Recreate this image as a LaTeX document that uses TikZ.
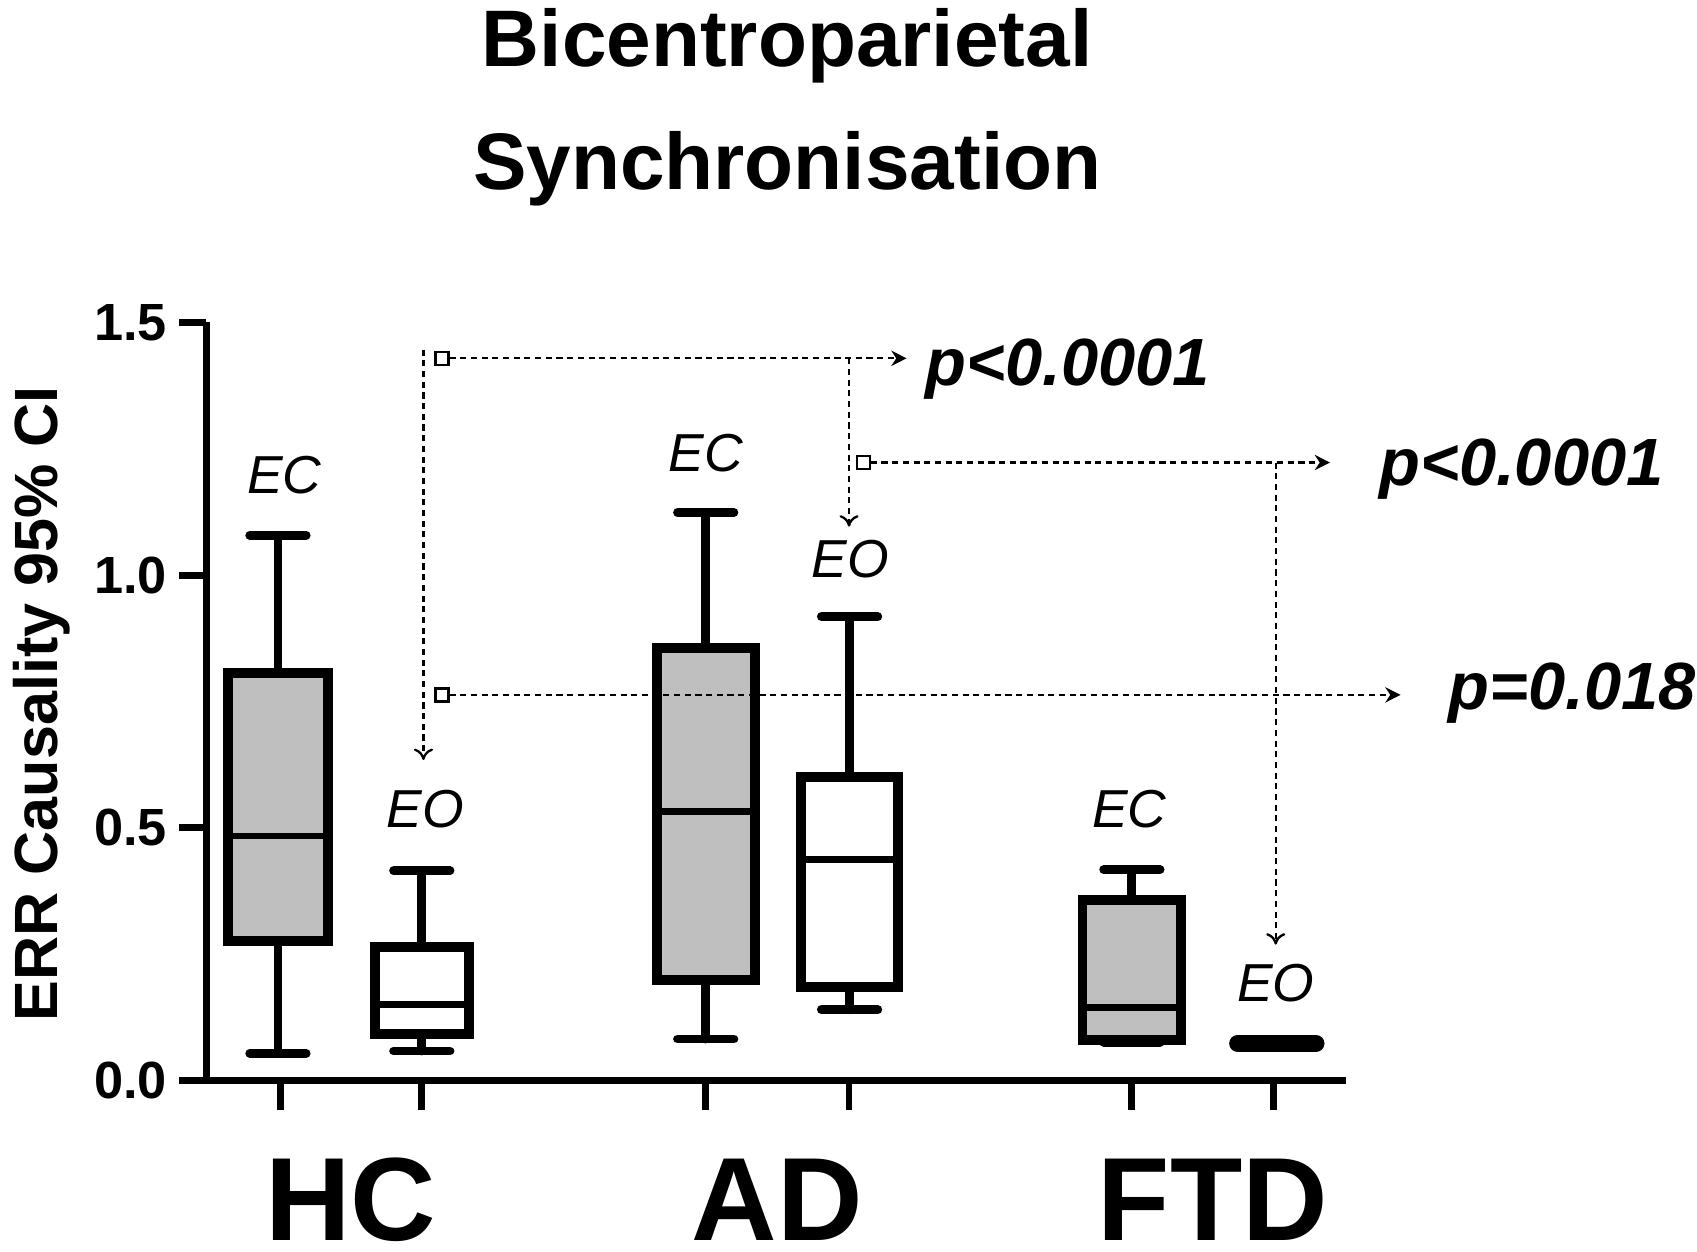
\documentclass[tikz,border=0pt]{standalone}
\usepackage{fontspec}
\setmainfont{Liberation Sans}
\usetikzlibrary{arrows.meta,positioning}

\tikzset{
  box/.style={line width=2.6pt},
  whisk/.style={line width=2.3pt,line cap=round},
  conn/.style={line width=0.6pt,dash pattern=on 1.6pt off 1.2pt},
  sqmark/.style={draw,line width=0.6pt,fill=white,minimum size=3.4pt,inner sep=0pt},
  grp/.style={font=\itshape\fontsize{14}{14}\selectfont},
  pval/.style={font=\bfseries\itshape\fontsize{17.5}{17.5}\selectfont,anchor=west}
}

% one box plot: x-left, x-right, top, bottom, median, whisker high, whisker low (px)
\newcommand{\boxplot}[8]{%
  \pgfmathsetmacro{\xm}{(#1+#2)/2}
  \draw[whisk] (\xm,#6) -- (\xm,#3);
  \draw[whisk] (\xm,#5) -- (\xm,#7);
  \draw[whisk] (\xm-26,#6) -- (\xm+26,#6);
  \draw[whisk] (\xm-26,#7) -- (\xm+26,#7);
  \draw[box,fill=#8] (#1,#3) rectangle (#2,#4);
  \draw[line width=1.8pt] (#1,#5) -- (#2,#5);
}

\begin{document}
\begin{tikzpicture}[x=0.01cm,y=-0.01cm,>=Stealth]
\useasboundingbox (0,0) rectangle (1563,1153);

% title
\node[font=\bfseries\fontsize{21}{21}\selectfont] (title1) at (725,42) {Bicentroparietal};
\node[font=\bfseries\fontsize{21}{21}\selectfont] (title2) at (725,155) {Synchronisation};

% axes
\draw[line width=1.8pt] (190,297) -- (190,995) -- (1240,995);
\foreach \y/\lab in {995/0.0,762/0.5,530/1.0,297/1.5}
  \draw[line width=1.8pt] (165,\y) -- (190,\y) node[pos=0,left=-1pt,font=\bfseries\fontsize{13.7}{13.7}\selectfont] {\lab};
\foreach \x in {258,388,650,782,1042,1173}
  \draw[line width=1.8pt] (\x,995) -- (\x,1022);
\node[rotate=90,font=\bfseries\fontsize{16}{16}\selectfont] (ylab) at (38,648) {ERR Causality 95\% CI};

% groups
\node[font=\bfseries\fontsize{31}{31}\selectfont] (hc) at (323,1105) {HC};
\node[font=\bfseries\fontsize{31}{31}\selectfont] (ad) at (716,1105) {AD};
\node[font=\bfseries\fontsize{31}{31}\selectfont] (ftd) at (1117,1105) {FTD};

% boxes
\boxplot{210}{302}{620}{867}{770}{493}{970}{gray!50}
\boxplot{345}{432}{872}{952}{925}{802}{968}{white}
\boxplot{605}{695}{597}{903}{747}{472}{957}{gray!50}
\boxplot{738}{827}{716}{909}{792}{568}{930}{white}
\boxplot{997}{1088}{829}{958}{928}{801}{960}{gray!50}
\draw[line width=4.5pt,line cap=round] (1140,961) -- (1212,961);

% condition labels
\node[grp] (hcec) at (262,438) {EC};
\node[grp] (hceo) at (392,745) {EO};
\node[grp] (adec) at (650,417) {EC};
\node[grp] (adeo) at (783,515) {EO};
\node[grp] (ftdec) at (1040,745) {EC};
\node[grp] (ftdeo) at (1175,905) {EO};

% comparisons
\coordinate (c1) at (390,322);
\coordinate (c2) at (390,700);
\coordinate (c3) at (782,330);
\coordinate (c4) at (782,485);
\coordinate (c5) at (1175,426);
\coordinate (c6) at (1175,870);
\coordinate (e1) at (835,330);
\coordinate (e2) at (1225,426);
\coordinate (e3) at (1290,640);
\node[pval] (p1) at (840,340) {p<0.0001};
\node[pval] (p2) at (1258,432) {p<0.0001};
\node[pval] (p3) at (1322,638) {p=0.018};

\draw[conn,-{To[length=3pt,width=5pt]}] (c1) -- (c2);
\draw[conn,-{To[length=3pt,width=5pt]}] (c3) -- (c4);
\draw[conn,-{To[length=3pt,width=5pt]}] (c5) -- (c6);
\node[sqmark] (m1) at (407,330) {};
\node[sqmark] (m2) at (795,426) {};
\node[sqmark] (m3) at (407,640) {};
\draw[conn,-{Stealth[length=4pt,width=4pt]}] (m1) -- (e1);
\draw[conn,-{Stealth[length=4pt,width=4pt]}] (m2) -- (e2);
\draw[conn,-{Stealth[length=4pt,width=4pt]}] (m3) -- (e3);

\end{tikzpicture}
\end{document}
